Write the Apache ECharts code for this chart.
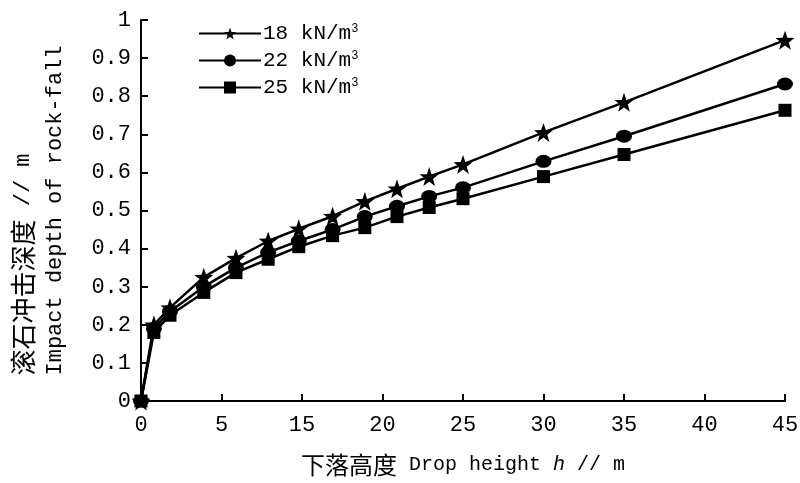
<!DOCTYPE html>
<html>
<head>
<meta charset="utf-8">
<script src="https://cdn.jsdelivr.net/npm/echarts@6/dist/echarts.min.js"></script>
<style>
    html, body {margin: 0; padding: 0; background: #fff;}
    #chart {width: 800px; height: 483px;}
</style>
</head>
<body>
<div id="chart"></div>
<script>
/*数据*/
var seriesNames = ['18', '22', '25'];
var dropHeight = [0, 0.8, 1.8, 3.9, 5.9, 7.9, 9.8, 11.9, 13.9, 15.9, 17.9, 20, 25, 30, 40];
var depth18 = [0, 0.20, 0.245, 0.325, 0.375, 0.42, 0.452, 0.485, 0.524, 0.557, 0.589, 0.621, 0.705, 0.784, 0.947];
var depth22 = [0, 0.19, 0.235, 0.30, 0.35, 0.39, 0.42, 0.45, 0.484, 0.511, 0.537, 0.560, 0.629, 0.695, 0.832];
var depth25 = [0, 0.18, 0.225, 0.285, 0.337, 0.372, 0.405, 0.434, 0.455, 0.484, 0.508, 0.531, 0.589, 0.647, 0.763];
var xTickLabels = ['0', '5', '15', '20', '25', '30', '35', '40', '45'];
var yTickLabels = ['0', '0.1', '0.2', '0.3', '0.4', '0.5', '0.6', '0.7', '0.8', '0.9', '1'];

// 等宽西文 + 中文
var mono = '"Liberation Mono", "Noto Sans CJK SC", monospace';
var cjk = '"Noto Sans CJK SC", sans-serif';

function pairs(xs, ys) {
    return xs.map(function (x, i) { return [x, ys[i]]; });
}

var myChart = echarts.init(document.getElementById('chart'));

var symbols = ['path://M0,-10 L2.35,-3.24 L9.51,-3.09 L3.8,1.24 L5.88,8.09 L0,4 L-5.88,8.09 L-3.8,1.24 L-9.51,-3.09 L-2.35,-3.24 Z', 'circle', 'rect'];
var sizes = [19, [16, 13], 13];
var datas = [depth18, depth22, depth25];

var series = seriesNames.map(function (name, i) {
    return {
        name: name,
        type: 'line',
        data: pairs(dropHeight, datas[i]),
        symbol: symbols[i],
        symbolSize: sizes[i],
        showAllSymbol: true,
        lineStyle: {color: '#000', width: 2.5},
        itemStyle: {color: '#000'},
        z: 3 - i
    };
});

var options = {
    animation: false,
    textStyle: {fontFamily: mono, color: '#000'},
    grid: {left: 141, right: 15, top: 20, bottom: 82, outerBoundsMode: 'none', containLabel: false},
    legend: {
        orient: 'vertical',
        left: 193,
        top: 18,
        itemWidth: 62,
        itemHeight: 15,
        itemGap: 6,
        data: seriesNames,
        textStyle: {
            fontFamily: mono,
            fontSize: 21,
            color: '#000',
            padding: [0, 0, 0, -3],
            rich: {
                sup: {fontFamily: mono, fontSize: 12, verticalAlign: 'top', padding: [0, 0, 9, 0], color: '#000'}
            }
        },
        formatter: function (name) {
            return name + ' kN/m{sup|3}';
        }
    },
    xAxis: {
        type: 'value',
        min: 0,
        max: 40,
        interval: 5,
        splitLine: {show: false},
        axisLine: {lineStyle: {color: '#000', width: 2}},
        axisTick: {inside: true, length: 7, lineStyle: {color: '#000', width: 2}},
        axisLabel: {
            fontFamily: mono, fontSize: 22, color: '#000', margin: 13,
            formatter: function (v) { return xTickLabels[Math.round(v / 5)]; }
        },
        name: '{c|下落高度}{l| Drop height }{i|h}{l| // m}',
        nameLocation: 'middle',
        nameGap: 52,
        nameTextStyle: {
            rich: {
                c: {fontFamily: cjk, fontSize: 24, color: '#000'},
                l: {fontFamily: mono, fontSize: 20, color: '#000'},
                i: {fontFamily: mono, fontSize: 20, fontStyle: 'italic', color: '#000'}
            }
        }
    },
    yAxis: {
        type: 'value',
        min: 0,
        max: 1,
        interval: 0.1,
        splitLine: {show: false},
        axisLine: {show: true, lineStyle: {color: '#000', width: 2}},
        axisTick: {show: true, inside: true, length: 7, lineStyle: {color: '#000', width: 2}},
        axisLabel: {
            fontFamily: mono, fontSize: 22, color: '#000', margin: 10,
            formatter: function (v) { return yTickLabels[Math.round(v * 10)]; }
        },
        name: '{c|滚石冲击深度}{l| // m}\n{l|Impact depth of rock-fall}',
        nameLocation: 'middle',
        nameRotate: 90,
        nameGap: 70,
        nameTextStyle: {
            rich: {
                c: {fontFamily: cjk, fontSize: 26, color: '#000', lineHeight: 32, align: 'left'},
                l: {fontFamily: mono, fontSize: 22, color: '#000', lineHeight: 32, align: 'left'}
            }
        }
    },
    series: series
};
myChart.setOption(options);
</script>
</body>
</html>
